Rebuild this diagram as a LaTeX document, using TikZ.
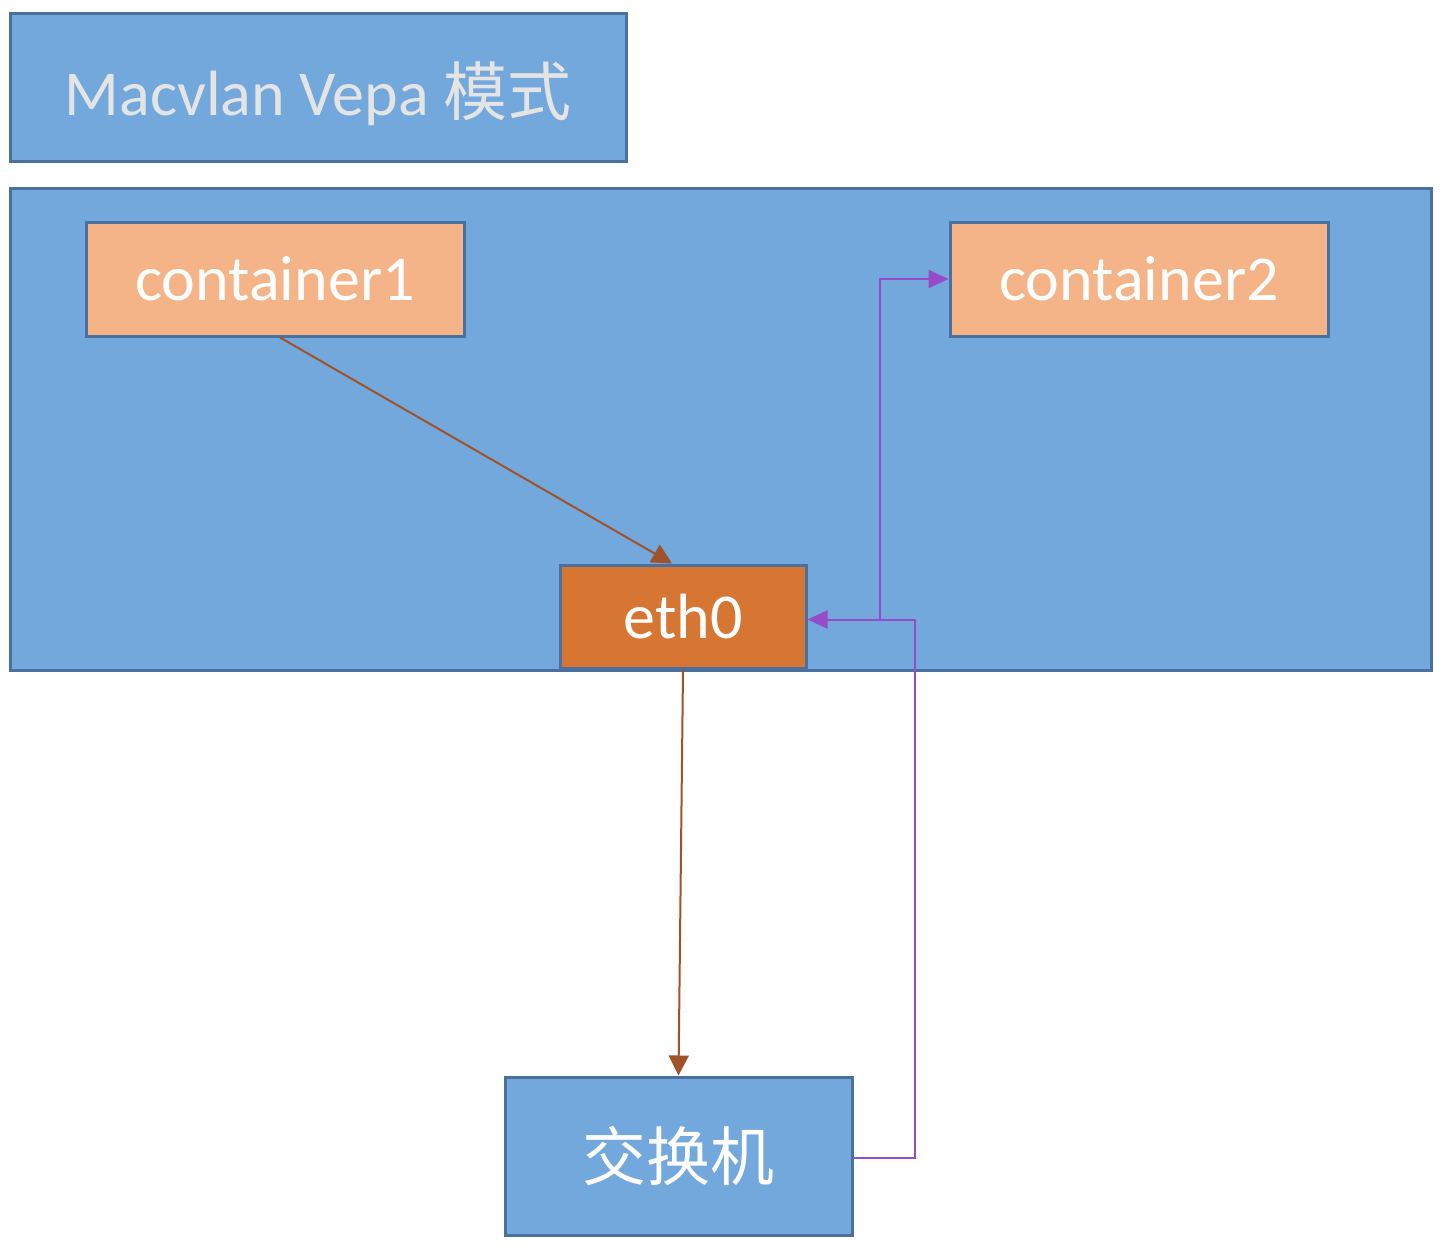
\documentclass[tikz,border=0pt]{standalone}
\usepackage{fontspec}
\setmainfont{Carlito}
\newfontfamily\cjk{Noto Sans CJK SC}
\usetikzlibrary{arrows.meta}
\definecolor{hostblue}{RGB}{114,168,219}
\definecolor{edgeblue}{RGB}{74,112,160}
\definecolor{peach}{RGB}{245,180,135}
\definecolor{ethorange}{RGB}{214,118,50}
\definecolor{brownline}{RGB}{160,82,40}
\definecolor{purpleline}{RGB}{150,75,200}
\definecolor{titletext}{RGB}{228,228,228}
\tikzset{
  box/.style={draw=edgeblue, line width=1.5pt, rectangle, inner sep=0pt, font=\fontsize{32}{38}\selectfont, text=white},
  bluebox/.style={box, fill=hostblue},
  ctbox/.style={box, fill=peach},
  ethbox/.style={box, fill=ethorange},
  brownarrow/.style={draw=brownline, line width=1pt, -{Triangle[length=10pt,width=10pt]}},
  purplearrow/.style={draw=purpleline, line width=1pt, -{Triangle[length=10pt,width=9pt]}},
}
\begin{document}
\begin{tikzpicture}[x=0.5pt,y=-0.5pt]
\useasboundingbox (0,0) rectangle (1454,1246);
\node[bluebox, minimum width=308pt, minimum height=74pt, text=titletext] (title) at (318,88) {};
\node[text=titletext, font=\fontsize{32}{38}\selectfont, inner sep=0pt] (titletxt) at (318,94) {Macvlan Vepa {\cjk 模式}};
\node[bluebox, minimum width=710.5pt, minimum height=240.5pt] (host) at (720.5,429.5) {};
\node[ctbox, minimum width=189pt, minimum height=57pt] (c1) at (275,279) {container1};
\node[ctbox, minimum width=189pt, minimum height=57pt] (c2) at (1139,279) {container2};
\node[ethbox, minimum width=123pt, minimum height=51.5pt] (eth0) at (683,616.5) {eth0};
\node[bluebox, minimum width=173.5pt, minimum height=79pt] (sw) at (678.5,1156) {\cjk 交换机};
\coordinate (j) at (880,619);
\coordinate (k) at (915,1158);
\draw[brownarrow] ([xshift=2.5pt]c1.south) -- ([xshift=-5.5pt]eth0.north);
\draw[brownarrow] (eth0.south) -- (sw.north);
\draw[purplearrow] (sw.east |- k) -- (k) |- ([yshift=-1.5pt]eth0.east);
\draw[purplearrow] (j) |- (c2.west);
\end{tikzpicture}
\end{document}
